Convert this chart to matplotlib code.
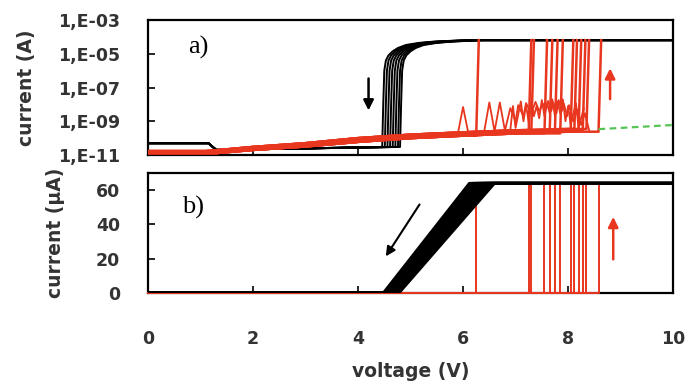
import numpy as np
import matplotlib.pyplot as plt

# compliance current used in both panels
comp_a = 6.4e-5      # A
comp_b = 64.0        # uA

# forward (forming) sweeps: voltage where each cell jumps to compliance
form_v = [6.25, 7.25, 7.3, 7.55, 7.65, 7.75, 7.85, 8.05, 8.12, 8.2, 8.28, 8.35, 8.58]

# leakage before forming (log panel), lower / middle / upper edge of the bundle
leak_v = [0.0, 1.1, 1.3, 2.0, 3.0, 4.0, 5.0, 6.0, 7.0, 8.0, 8.6]
leak_lo = [1.3e-11, 1.3e-11, 1.3e-11, 2.0e-11, 3.2e-11, 6.0e-11, 1.0e-10, 1.4e-10, 1.9e-10, 2.4e-10, 2.8e-10]
leak_mid = [1.5e-11, 1.5e-11, 1.6e-11, 2.5e-11, 4.0e-11, 8.0e-11, 1.3e-10, 1.8e-10, 2.4e-10, 3.0e-10, 3.4e-10]
leak_hi = [1.7e-11, 1.7e-11, 1.9e-11, 3.0e-11, 5.0e-11, 1.0e-10, 1.6e-10, 2.2e-10, 2.9e-10, 3.5e-10, 3.9e-10]

# current spikes seen on the forward sweeps before forming
noise_v = [5.9, 6.0, 6.1, 6.4, 6.5, 6.6, 6.7, 6.8, 6.9, 6.95, 7.0, 7.1, 7.15, 7.2, 7.25, 7.3,
           7.35, 7.4, 7.45, 7.5, 7.55, 7.6, 7.65, 7.7, 7.75, 7.8, 7.85, 7.9, 7.95, 8.0, 8.05, 8.15, 8.2, 8.3]
noise_i = [1.8e-10, 7e-9, 2.0e-10, 2.2e-10, 1.3e-8, 2.5e-10, 1.3e-8, 2.5e-10, 3e-10, 8e-9, 4e-10, 1.5e-8, 1e-9, 1e-8, 8e-10, 1.6e-8,
           2e-9, 8e-9, 1.5e-9, 1.8e-8, 2e-9, 1.2e-8, 3e-9, 2e-8, 2e-9, 1.5e-8, 3e-9, 2e-8, 1e-9, 8e-9, 6e-10, 1.2e-8, 4e-10, 6e-9]
noise2_v = [6.8, 6.9, 7.0, 7.05, 7.15, 7.2, 7.3, 7.38, 7.45, 7.52, 7.58, 7.62, 7.68, 7.72, 7.78, 7.82,
            7.88, 7.92, 7.98, 8.02, 8.1, 8.18, 8.25, 8.32, 8.4]
noise2_i = [3e-10, 6e-9, 1e-9, 9e-9, 2e-9, 1.2e-8, 3e-9, 1.4e-8, 4e-9, 1.1e-8, 5e-9, 1.6e-8, 4e-9, 1.3e-8, 3e-9, 1.8e-8,
            4e-9, 1.1e-8, 2e-9, 9e-9, 1e-9, 5e-9, 6e-10, 3e-9, 3e-10]

# reset (backward) sweeps, log panel: reset voltage of each sweep and knee shape above it
reset_v = [4.46, 4.51, 4.56, 4.61, 4.66, 4.71, 4.76, 4.80]
knee_dv = [1.6, 1.0, 0.7, 0.45, 0.3, 0.2, 0.12, 0.07, 0.04, 0.02, 0.0]
knee_i = [6.4e-5, 5.3e-5, 4.4e-5, 3.3e-5, 2.2e-5, 1.4e-5, 8e-6, 4e-6, 1e-6, 1e-8, 3e-11]
off_v = [1.3, 1.15, 0.0]
off_i = [2.0e-11, 5.0e-11, 5.0e-11]

# reset sweeps, linear panel: voltage at 0 uA and at compliance
ramp_v0 = [4.48, 4.51, 4.54, 4.57, 4.60, 4.63, 4.66, 4.69, 4.72, 4.75, 4.78]
ramp_v1 = [6.12, 6.17, 6.22, 6.27, 6.32, 6.37, 6.42, 6.47, 6.52, 6.56, 6.60]

# extrapolated leakage of the unformed cell
green_v = [8.58, 10.0]
green_i = [3.4e-10, 6.0e-10]

a_ticks = [1e-11, 1e-9, 1e-7, 1e-5, 1e-3]
a_labels = ["1,E-11", "1,E-09", "1,E-07", "1,E-05", "1,E-03"]
b_ticks = [0, 20, 40, 60]
x_ticks = [0, 2, 4, 6, 8, 10]

RED = "#e8361f"
TXT = "#333333"

fig = plt.figure(figsize=(6.9, 3.87), dpi=100)
ax_a = fig.add_axes([0.2145, 0.5995, 0.761, 0.3488])
ax_b = fig.add_axes([0.2145, 0.2429, 0.761, 0.3101])

# ---- a) log scale ----
for vr in reset_v:
    v = [10.0] + [vr + d for d in knee_dv] + off_v
    i = [comp_a] + knee_i + off_i
    ax_a.plot(v, i, color="black", lw=1.4, zorder=2)

leaks = [leak_lo, leak_mid, leak_hi]
for k, vf in enumerate(form_v):
    lk = leaks[k % 3]
    keep = [j for j in range(len(leak_v)) if leak_v[j] <= vf]
    v = [leak_v[j] for j in keep] + [vf, vf + 0.05]
    i = [lk[j] for j in keep] + [lk[keep[-1]], comp_a]
    ax_a.plot(v, i, color=RED, lw=1.8, zorder=3)
ax_a.plot(noise_v, noise_i, color=RED, lw=1.3, zorder=3)
ax_a.plot(noise2_v, noise2_i, color=RED, lw=1.3, zorder=3)
ax_a.plot(green_v, green_i, color="#55c455", lw=1.6, ls=(0, (3, 2)), zorder=3)

ax_a.annotate("", xy=(4.2, 3e-9), xytext=(4.2, 5e-7),
              arrowprops=dict(arrowstyle="-|>", color="black", lw=1.8, mutation_scale=15))
ax_a.annotate("", xy=(8.8, 2e-6), xytext=(8.8, 1.4e-8),
              arrowprops=dict(arrowstyle="-|>", color=RED, lw=1.8, mutation_scale=15))

ax_a.set_yscale("log")
ax_a.set_ylim(1e-11, 1e-3)
ax_a.set_xlim(0, 10)
ax_a.set_yticks(a_ticks)
ax_a.set_yticklabels(a_labels)
ax_a.minorticks_off()
ax_a.set_xticks(x_ticks)
ax_a.set_xticklabels([])
ax_a.set_ylabel("current (A)", fontsize=13.5, fontweight="bold", color=TXT, labelpad=16)
ax_a.text(0.095, 0.80, "a)", transform=ax_a.transAxes, fontsize=19,
          family="Liberation Serif", ha="center", va="center",
          bbox=dict(fc="white", ec="none", pad=6), zorder=5)

# ---- b) linear scale ----
for vf in form_v:
    ax_b.plot([0, vf, vf], [0, 0, comp_b], color=RED, lw=1.4, zorder=3, clip_on=False)
for v0, v1 in zip(ramp_v0, ramp_v1):
    ax_b.plot([0, v0, v1, 10], [0, 0, comp_b, comp_b], color="black", lw=2.0, zorder=4)

ax_b.annotate("", xy=(4.5, 20), xytext=(5.2, 53),
              arrowprops=dict(arrowstyle="-|>", color="black", lw=1.5, mutation_scale=14))
ax_b.annotate("", xy=(8.86, 46), xytext=(8.86, 18),
              arrowprops=dict(arrowstyle="-|>", color=RED, lw=1.8, mutation_scale=15))

ax_b.set_xlim(0, 10)
ax_b.set_ylim(0, 70)
ax_b.set_yticks(b_ticks)
ax_b.set_xticks(x_ticks)
ax_b.set_ylabel("current (\u00b5A)", fontsize=13.5, fontweight="bold", color=TXT, labelpad=22)
ax_b.set_xlabel("voltage (V)", fontsize=13.5, fontweight="bold", color=TXT, labelpad=10)
ax_b.text(0.085, 0.71, "b)", transform=ax_b.transAxes, fontsize=19,
          family="Liberation Serif", ha="center", va="center",
          bbox=dict(fc="white", ec="none", pad=6), zorder=5)

for ax in (ax_a, ax_b):
    for s in ax.spines.values():
        s.set_linewidth(1.6)
    ax.tick_params(direction="in", length=5, width=1.2, colors="black",
                   labelcolor=TXT, labelsize=12.5)
    ax.tick_params(axis="y", pad=20)
    for lab in ax.get_xticklabels() + ax.get_yticklabels():
        lab.set_fontweight("bold")
ax_b.tick_params(axis="x", pad=27)

fig.savefig("out.png", dpi=100)
